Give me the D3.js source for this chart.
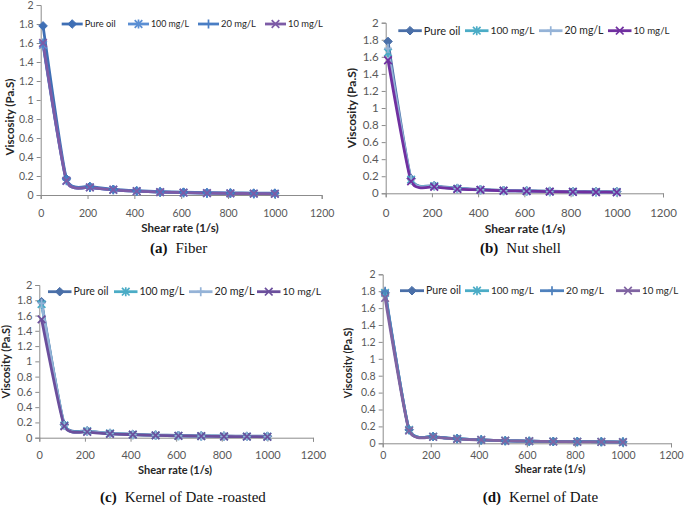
<!DOCTYPE html>
<html><head><meta charset="utf-8">
<script src="https://cdn.jsdelivr.net/npm/d3@7"></script>
<style>body{margin:0;background:#fff}svg{display:block}</style>
</head><body>
<svg id="c" width="685" height="508"></svg>
<script>
// ---- data ----
const shearRate = [10, 110, 210, 310, 410, 510, 610, 710, 810, 910, 1000];
const seriesNames = ["Pure oil", "100 mg/L", "20 mg/L", "10 mg/L"];
const xTickValues = [0, 200, 400, 600, 800, 1000, 1200];
const yTickValues = [0, 0.2, 0.4, 0.6, 0.8, 1, 1.2, 1.4, 1.6, 1.8, 2];

const fiberPure = [1.78, 0.17, 0.09, 0.06, 0.045, 0.035, 0.03, 0.025, 0.022, 0.02, 0.02];
const fiber100  = [1.58, 0.15, 0.08, 0.055, 0.04, 0.03, 0.025, 0.02, 0.018, 0.015, 0.015];
const fiber20   = [1.60, 0.16, 0.08, 0.055, 0.04, 0.03, 0.025, 0.02, 0.018, 0.015, 0.015];
const fiber10   = [1.60, 0.15, 0.08, 0.055, 0.04, 0.03, 0.025, 0.02, 0.017, 0.015, 0.012];

const nutPure = [1.78, 0.17, 0.09, 0.06, 0.045, 0.035, 0.03, 0.025, 0.022, 0.02, 0.02];
const nut100  = [1.65, 0.16, 0.085, 0.055, 0.04, 0.03, 0.025, 0.02, 0.018, 0.015, 0.015];
const nut20   = [1.70, 0.16, 0.085, 0.055, 0.04, 0.03, 0.025, 0.02, 0.018, 0.015, 0.015];
const nut10   = [1.56, 0.14, 0.075, 0.05, 0.04, 0.03, 0.025, 0.02, 0.016, 0.014, 0.012];

const roastPure = [1.78, 0.17, 0.09, 0.06, 0.045, 0.035, 0.03, 0.025, 0.022, 0.02, 0.02];
const roast100  = [1.75, 0.16, 0.085, 0.055, 0.04, 0.03, 0.025, 0.02, 0.018, 0.015, 0.015];
const roast20   = [1.76, 0.16, 0.085, 0.055, 0.04, 0.03, 0.025, 0.02, 0.018, 0.015, 0.015];
const roast10   = [1.55, 0.15, 0.075, 0.05, 0.04, 0.03, 0.025, 0.02, 0.016, 0.014, 0.012];

const kernelPure = [1.78, 0.16, 0.08, 0.055, 0.04, 0.03, 0.025, 0.022, 0.02, 0.018, 0.015];
const kernel100  = [1.78, 0.16, 0.08, 0.055, 0.04, 0.03, 0.025, 0.022, 0.02, 0.018, 0.015];
const kernel20   = [1.80, 0.16, 0.08, 0.055, 0.04, 0.03, 0.025, 0.022, 0.02, 0.018, 0.015];
const kernel10   = [1.72, 0.15, 0.075, 0.05, 0.04, 0.03, 0.025, 0.02, 0.018, 0.016, 0.013];

const captionLetters = ["(a)", "(b)", "(c)", "(d)"];
const captionTexts = ["Fiber", "Nut shell", "Kernel of Date -roasted", "Kernel of Date"];

// ---- layout / style ----
const panels = [
  { values: [fiberPure, fiber100, fiber20, fiber10],
    colors: ["#3F6FB5", "#5B8FD3", "#4A7EC4", "#7D5BA6"],
    left: 40.7, right: 321.7, top: 5, bottom: 195, tickFont: 10.5, tickLabelY: 213,
    legendY: 24, legendX: [61.7, 128, 198, 265], legendLine: 21, legendTextW: [31, 38, 35, 35],
    yTitle: [10, 117], xTitle: [180, 232], titleFont: 11.5, caption: [150, 253] },
  { values: [nutPure, nut100, nut20, nut10],
    colors: ["#4A6FA8", "#4BACC6", "#95B3D7", "#7030A0"],
    left: 385.7, right: 663, top: 22.7, bottom: 193.3, tickFont: 11.5, tickLabelY: 213,
    legendY: 30.7, legendX: [398.3, 465, 539, 608], legendLine: 23.5, legendTextW: [36.7, 44, 39, 36],
    yTitle: [351.7, 108], xTitle: [525, 233], titleFont: 12, caption: [480, 253] },
  { values: [roastPure, roast100, roast20, roast10],
    colors: ["#4A6FA8", "#4BACC6", "#95B3D7", "#6B4F9C"],
    left: 39.3, right: 313, top: 285, bottom: 437.7, tickFont: 11, tickLabelY: 455,
    legendY: 291.7, legendX: [48, 114, 189, 257], legendLine: 23.5, legendTextW: [35, 45, 40, 38.7],
    yTitle: [6, 361.7], xTitle: [175, 474], titleFont: 11, caption: [100, 502] },
  { values: [kernelPure, kernel100, kernel20, kernel10],
    colors: ["#4A6FA8", "#4BACC6", "#4F81BD", "#8064A2"],
    left: 382.7, right: 671, top: 274.3, bottom: 443.3, tickFont: 10.5, tickLabelY: 455.5,
    legendY: 290.7, legendX: [400, 465, 540, 616], legendLine: 24, legendTextW: [35, 43, 38, 36.3],
    yTitle: [348.3, 363], xTitle: [550, 472.5], titleFont: 10.5, caption: [482.7, 502] }
];

const svg = d3.select("#c");
const sansFont = "Lato, 'Open Sans', sans-serif";
const serifFont = "'Liberation Serif', 'DejaVu Serif', serif";

function markerPath(type, r) {
  const p = d3.path();
  if (type === 0) { // diamond
    p.moveTo(0, -r); p.lineTo(r, 0); p.lineTo(0, r); p.lineTo(-r, 0); p.closePath();
  } else if (type === 1) { // star (asterisk)
    p.moveTo(-r, -r); p.lineTo(r, r); p.moveTo(-r, r); p.lineTo(r, -r);
    p.moveTo(0, -r * 1.2); p.lineTo(0, r * 1.2);
  } else if (type === 2) { // plus
    p.moveTo(-r, 0); p.lineTo(r, 0); p.moveTo(0, -r * 1.2); p.lineTo(0, r * 1.2);
  } else { // x
    p.moveTo(-r, -r); p.lineTo(r, r); p.moveTo(-r, r); p.lineTo(r, -r);
  }
  return p.toString();
}

function drawMarker(g, type, color, x, y, r) {
  const m = g.append("path").attr("transform", `translate(${x},${y})`).attr("d", markerPath(type, r));
  if (type === 0) m.attr("fill", color).attr("stroke", color).attr("stroke-width", 1);
  else m.attr("fill", "none").attr("stroke", color).attr("stroke-width", 1.7);
}

panels.forEach((P, pi) => {
  const g = svg.append("g");
  const x = d3.scaleLinear().domain([0, 1200]).range([P.left, P.right]);
  const y = d3.scaleLinear().domain([0, 2]).range([P.bottom, P.top]);

  // axes
  const yAxis = g.append("g").attr("transform", `translate(${P.left},0)`)
    .call(d3.axisLeft(y).tickValues(yTickValues).tickSize(4).tickPadding(3).tickFormat(d3.format("~g")));
  const xAxis = g.append("g").attr("transform", `translate(0,${P.bottom})`)
    .call(d3.axisBottom(x).tickValues(xTickValues).tickSize(4).tickPadding(0).tickFormat(d3.format("d")));
  [yAxis, xAxis].forEach(a => {
    a.select(".domain").attr("stroke", "#8C8C8C").attr("stroke-width", 1);
    a.selectAll(".tick line").attr("stroke", "#8C8C8C");
    a.selectAll("text").attr("fill", "#595959").attr("font-family", sansFont).attr("font-size", P.tickFont);
  });
  xAxis.selectAll("text").attr("y", P.tickLabelY - P.bottom).attr("dy", "0.35em");

  // lines (Excel-like smoothing)
  const line = d3.line().x((d, i) => x(shearRate[i])).y(d => y(d)).curve(d3.curveCardinal.tension(0.5));
  P.values.forEach((vals, si) => {
    g.append("path").attr("d", line(vals)).attr("fill", "none")
      .attr("stroke", P.colors[si]).attr("stroke-width", 2.8).attr("stroke-linejoin", "round");
  });
  P.values.forEach((vals, si) => {
    vals.forEach((v, i) => drawMarker(g, si, P.colors[si], x(shearRate[i]), y(v), si === 0 ? 4.3 : 3.8));
  });

  // legend
  seriesNames.forEach((name, si) => {
    const lx = P.legendX[si];
    g.append("line").attr("x1", lx).attr("x2", lx + P.legendLine)
      .attr("y1", P.legendY).attr("y2", P.legendY)
      .attr("stroke", P.colors[si]).attr("stroke-width", 2.8);
    drawMarker(g, si, P.colors[si], lx + P.legendLine / 2, P.legendY, si === 0 ? 4.3 : 3.8);
    const t = g.append("text").attr("x", lx + P.legendLine + 2).attr("y", P.legendY).attr("dy", "0.35em")
      .attr("font-family", sansFont).attr("font-size", 12).attr("fill", "#262626").text(name);
    const w = t.node().getComputedTextLength();
    t.attr("font-size", 12 * P.legendTextW[si] / w);
  });

  // axis titles
  g.append("text").attr("transform", `translate(${P.yTitle[0]},${P.yTitle[1]}) rotate(-90)`)
    .attr("text-anchor", "middle").attr("dy", "0.35em").attr("font-family", sansFont)
    .attr("font-weight", "bold").attr("font-size", P.titleFont).attr("fill", "#262626").text("Viscosity (Pa.S)");
  g.append("text").attr("x", P.xTitle[0]).attr("y", P.xTitle[1]).attr("text-anchor", "middle")
    .attr("font-family", sansFont).attr("font-weight", "bold").attr("font-size", P.titleFont)
    .attr("fill", "#262626").text("Shear rate (1/s)");

  // caption
  const cap = g.append("text").attr("x", P.caption[0]).attr("y", P.caption[1])
    .attr("font-family", serifFont).attr("font-size", 15).attr("fill", "#111");
  cap.append("tspan").attr("font-weight", "bold").text(captionLetters[pi]);
  cap.append("tspan").attr("dx", 8).text(captionTexts[pi]);
});
</script>
</body></html>
